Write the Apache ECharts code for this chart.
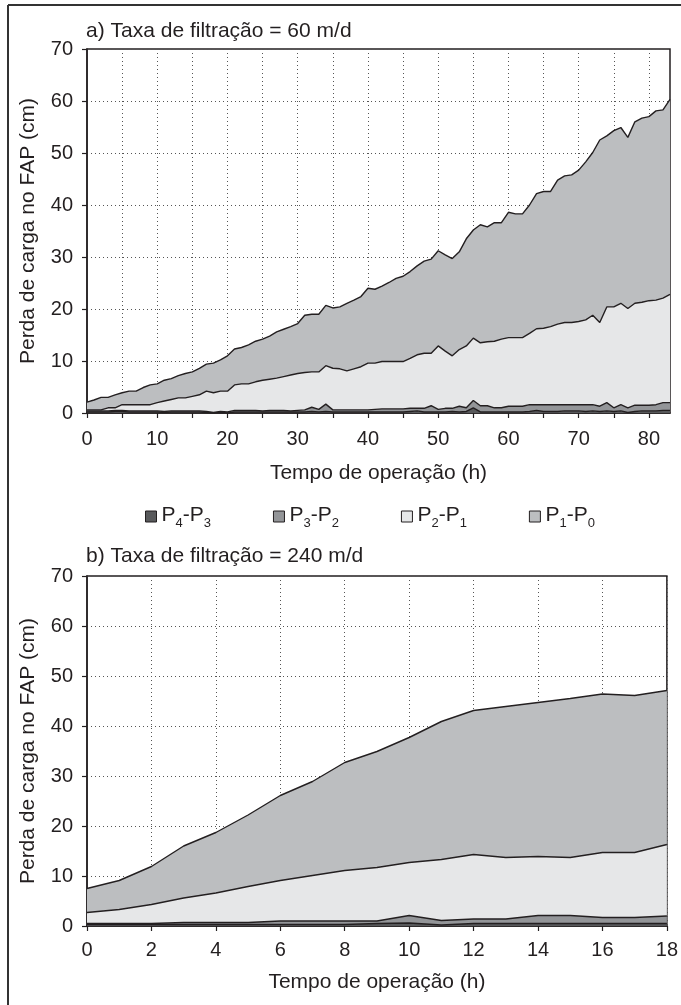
<!DOCTYPE html>
<html>
<head>
<meta charset="utf-8">
<script src="https://cdn.jsdelivr.net/npm/echarts@6/dist/echarts.min.js"></script>
<style>
html, body { margin: 0; padding: 0; background: #fff; }
#chart { width: 681px; height: 1005px; }
</style>
</head>
<body>
<div id="chart"></div>
<script>
// a) Taxa de filtração = 60 m/d  (perda de carga por camada, cm)
var horasA = [0, 1, 2, 3, 4, 5, 6, 7, 8, 9, 10, 11, 12, 13, 14, 15, 16, 17, 18, 19,
    20, 21, 22, 23, 24, 25, 26, 27, 28, 29, 30, 31, 32, 33, 34, 35, 36, 37, 38, 39,
    40, 41, 42, 43, 44, 45, 46, 47, 48, 49, 50, 51, 52, 53, 54, 55, 56, 57, 58, 59,
    60, 61, 62, 63, 64, 65, 66, 67, 68, 69, 70, 71, 72, 73, 74, 75, 76, 77, 78, 79,
    80, 81, 82, 83]
var p43A = [0.2, 0.2, 0.2, 0.2, 0.3, 0.3, 0.2, 0.2, 0.2, 0.2, 0.2, 0.1, 0.2, 0.2, 0.2, 0.2, 0.2, 0.1, 0, 0.1,
    0, 0.2, 0.2, 0.2, 0.2, 0.2, 0.2, 0.2, 0.2, 0.2, 0.2, 0.2, 0.3, 0.2, 0.3, 0.2, 0.2, 0.2, 0.2, 0.2,
    0.2, 0.2, 0.2, 0.2, 0.2, 0.2, 0.3, 0.4, 0.2, 0.2, 0.2, 0.2, 0.3, 0.2, 0.3, 1.0, 0.2, 0.2, 0.2, 0.2,
    0.2, 0.2, 0.2, 0.3, 0.5, 0.3, 0.3, 0.3, 0.4, 0.4, 0.4, 0.3, 0.4, 0.3, 0.4, 0.3, 0.4, 0.1, 0.3, 0.4,
    0.4, 0.4, 0.5, 0.5]
var p32A = [0.2, 0.2, 0.2, 0.2, 0.2, 0.2, 0.2, 0.2, 0.2, 0.2, 0.2, 0.2, 0.2, 0.2, 0.2, 0.2, 0.2, 0.2, 0.1, 0.2,
    0.2, 0.3, 0.3, 0.3, 0.3, 0.2, 0.3, 0.3, 0.3, 0.2, 0.3, 0.4, 0.8, 0.5, 1.4, 0.4, 0.4, 0.4, 0.4, 0.4,
    0.4, 0.5, 0.6, 0.6, 0.6, 0.6, 0.6, 0.5, 0.7, 1.2, 0.5, 0.7, 0.6, 1.1, 0.7, 1.4, 1.2, 1.2, 0.8, 0.8,
    1.1, 1.1, 1.1, 1.3, 1.1, 1.3, 1.3, 1.3, 1.2, 1.2, 1.2, 1.3, 1.2, 1.0, 1.6, 0.7, 1.2, 0.9, 1.2, 1.1,
    1.1, 1.2, 1.5, 1.5]
var p21A = [0.2, 0.2, 0.2, 0.6, 0.5, 1.1, 1.2, 1.2, 1.2, 1.2, 1.6, 2.0, 2.2, 2.5, 2.5, 2.8, 3.1, 3.9, 3.8, 3.9,
    4.0, 4.9, 5.1, 5.1, 5.5, 5.9, 6.0, 6.2, 6.5, 6.9, 7.1, 7.2, 6.8, 7.2, 7.4, 8.0, 7.9, 7.5, 7.9, 8.3,
    9.0, 8.9, 9.1, 9.1, 9.1, 9.1, 9.6, 10.3, 10.6, 10.1, 12.2, 11.0, 10.1, 10.9, 11.9, 12.0, 12.1, 12.3, 12.8, 13.2,
    13.2, 13.2, 13.2, 13.7, 14.6, 14.7, 15.0, 15.5, 15.8, 15.8, 16.0, 16.3, 17.2, 16.1, 18.4, 19.4, 19.5, 19.1, 19.6, 19.8,
    20.1, 20.1, 20.1, 20.8]
var p10A = [1.5, 1.9, 2.4, 2.0, 2.5, 2.3, 2.6, 2.6, 3.3, 3.8, 3.6, 4.0, 4.0, 4.3, 4.7, 4.7, 5.1, 5.2, 5.7, 6.0,
    6.8, 6.9, 7.0, 7.5, 7.8, 7.9, 8.3, 8.9, 9.1, 9.3, 9.6, 11.0, 11.1, 11.1, 11.6, 11.6, 11.9, 13.0, 13.2, 13.5,
    14.4, 14.2, 14.5, 15.2, 16.0, 16.4, 16.7, 17.1, 17.7, 18.1, 18.3, 18.5, 18.7, 18.8, 20.6, 20.8, 22.7, 22.1, 22.8, 22.4,
    24.1, 23.8, 23.8, 24.7, 26.0, 26.3, 26.0, 27.7, 28.2, 28.4, 29.1, 30.4, 31.3, 35.1, 32.9, 33.9, 33.8, 32.9, 34.9, 35.4,
    35.4, 36.4, 36.2, 37.5]

// b) Taxa de filtração = 240 m/d
var horasB = [0, 1, 2, 3, 4, 5, 6, 7, 8, 9, 10, 11, 12, 13, 14, 15, 16, 17, 18]
var p43B = [0.3, 0.3, 0.3, 0.3, 0.3, 0.3, 0.3, 0.3, 0.3, 0.5, 0.6, 0.2, 0.5, 0.5, 0.5, 0.5, 0.5, 0.5, 0.5]
var p32B = [0.2, 0.2, 0.2, 0.4, 0.4, 0.4, 0.7, 0.7, 0.7, 0.5, 1.5, 0.9, 0.9, 0.9, 1.6, 1.6, 1.2, 1.2, 1.5]
var p21B = [2.2, 2.8, 3.8, 4.9, 5.9, 7.2, 8.1, 9.1, 10.1, 10.7, 10.6, 12.2, 12.9, 12.3, 11.8, 11.6, 13.0, 13.0, 14.3]
var p10B = [4.8, 5.8, 7.6, 10.4, 12.1, 14.3, 17.0, 18.8, 21.6, 23.2, 25.0, 27.6, 28.8, 30.2, 30.8, 31.8, 31.7, 31.4, 30.8]

var camadas = ['P4-P3', 'P3-P2', 'P2-P1', 'P1-P0']
var cores = ['#58595b', '#939598', '#e6e7e8', '#bcbec0']

var fonte = '"Liberation Sans", Arial, sans-serif'
var preto = '#231f20'

var serie = function(idx, ys, eixo, pilha) {
    return {
        name: camadas[idx],
        type: 'line',
        xAxisIndex: eixo,
        yAxisIndex: eixo,
        stack: pilha,
        showSymbol: false,
        symbol: 'none',
        lineStyle: { color: preto, width: 1.4 },
        itemStyle: { color: cores[idx] },
        areaStyle: { color: cores[idx], opacity: 1 },
        data: ys,
    }
}

var grade = function(passo) {
    return {
        show: true,
        interval: function(i) { return i % passo === 0 },
        lineStyle: { color: '#555', width: 1, type: [1, 3] },
    }
}

var eixoY = function(g) {
    return {
        gridIndex: g,
        type: 'value',
        min: 0,
        max: 70,
        interval: 10,
        name: 'Perda de carga no FAP (cm)',
        nameLocation: 'middle',
        nameGap: 48,
        nameTextStyle: { fontFamily: fonte, fontSize: 21, color: preto },
        axisLine: { show: true, lineStyle: { color: preto, width: 1.5 } },
        axisTick: { show: true, length: 5, lineStyle: { color: preto, width: 1.2 } },
        axisLabel: { margin: 14, fontFamily: fonte, fontSize: 20, color: preto },
        splitLine: { lineStyle: { color: '#555', width: 1, type: [1, 3] } },
    }
}

// eixo de categorias: marcas a cada "passo" horas, rótulos a cada "passoRot"
var eixoX = function(g, horas, passo, passoRot, margem, nameGap) {
    return {
        gridIndex: g,
        type: 'category',
        boundaryGap: false,
        data: horas,
        name: 'Tempo de operação (h)',
        nameLocation: 'middle',
        nameGap: nameGap,
        nameTextStyle: { fontFamily: fonte, fontSize: 21, color: preto },
        axisLine: { show: true, onZero: false, lineStyle: { color: preto, width: 1.5 } },
        axisTick: {
            show: true,
            length: 5,
            interval: function(i) { return i % passo === 0 },
            lineStyle: { color: preto, width: 1.2 },
        },
        axisLabel: {
            margin: margem,
            fontFamily: fonte,
            fontSize: 20,
            color: preto,
            interval: function(i) { return i % passoRot === 0 },
        },
        splitLine: grade(passo),
    }
}

var myChart = echarts.init(document.getElementById('chart'), null, { renderer: 'canvas' })

var option = {
    backgroundColor: '#fff',
    animation: false,
    title: [
        {
            text: 'a) Taxa de filtração = 60 m/d',
            left: 86,
            top: 21,
            padding: 0,
            textStyle: { fontFamily: fonte, fontSize: 21, fontWeight: 'normal', color: preto },
        },
        {
            text: 'b) Taxa de filtração = 240 m/d',
            left: 86,
            top: 546,
            padding: 0,
            textStyle: { fontFamily: fonte, fontSize: 21, fontWeight: 'normal', color: preto },
        },
    ],
    legend: {
        data: camadas,
        left: 140,
        top: 500,
        icon: 'rect',
        itemWidth: 11,
        itemHeight: 11,
        itemGap: 62,
        selectedMode: false,
        itemStyle: { borderColor: preto, borderWidth: 1 },
        lineStyle: { width: 0 },
        formatter: function(name) {
            var m = name.match(/P(\d)-P(\d)/)
            return '{p|P}{s|' + m[1] + '}{p|-P}{s|' + m[2] + '}'
        },
        textStyle: {
            fontFamily: fonte,
            color: preto,
            rich: {
                p: { fontFamily: fonte, fontSize: 21, lineHeight: 23, verticalAlign: 'top', color: preto },
                s: { fontFamily: fonte, fontSize: 13, lineHeight: 13, padding: [12, 0, 0, 0], verticalAlign: 'top', color: preto },
            },
        },
    },
    grid: [
        { left: 87, right: 11, top: 49, height: 364, show: true, borderColor: preto, borderWidth: 1.5, backgroundColor: 'transparent' },
        { left: 87, right: 11, top: 576, height: 350, show: true, borderColor: preto, borderWidth: 1.5, backgroundColor: 'transparent' },
    ],
    xAxis: [
        eixoX(0, horasA, 5, 10, 16, 50),
        eixoX(1, horasB, 2, 2, 14, 46),
    ],
    yAxis: [eixoY(0), eixoY(1)],
    series: [
        serie(0, p43A, 0, 'a'),
        serie(1, p32A, 0, 'a'),
        serie(2, p21A, 0, 'a'),
        serie(3, p10A, 0, 'a'),
        serie(0, p43B, 1, 'b'),
        serie(1, p32B, 1, 'b'),
        serie(2, p21B, 1, 'b'),
        serie(3, p10B, 1, 'b'),
    ],
    graphic: [
        { type: 'line', shape: { x1: 8, y1: 5, x2: 681, y2: 5 }, style: { stroke: '#333', lineWidth: 2 } },
        { type: 'line', shape: { x1: 8, y1: 5, x2: 8, y2: 1005 }, style: { stroke: '#333', lineWidth: 2 } },
    ],
}

myChart.setOption(option)
</script>
</body>
</html>
